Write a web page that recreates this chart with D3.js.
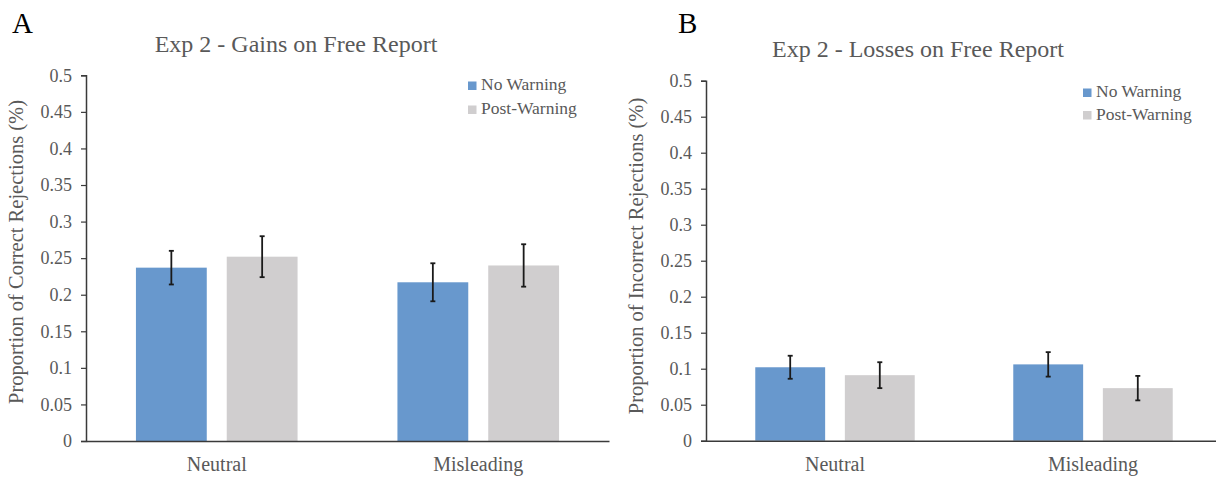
<!DOCTYPE html>
<html>
<head>
<meta charset="utf-8">
<script src="https://cdn.jsdelivr.net/npm/d3@7"></script>
<style>
  html, body { margin: 0; padding: 0; background: #ffffff; }
  svg { display: block; }
  text { font-family: "Liberation Serif", "Times New Roman", serif; }
</style>
</head>
<body>
<svg id="chart" width="1216" height="479"></svg>
<script>
// Conditions on the x axis and the two warning groups
const categories = ["Neutral", "Misleading"];
const seriesNames = ["No Warning", "Post-Warning"];
const seriesColors = ["#6898CD", "#D0CECF"];
const yTicks = [0, 0.05, 0.1, 0.15, 0.2, 0.25, 0.3, 0.35, 0.4, 0.45, 0.5];

// Panel A: gains (correct rejections)
const gainsNoWarning = [0.237, 0.217];
const gainsPostWarning = [0.252, 0.240];
const gainsNoWarningErr = [0.023, 0.026];
const gainsPostWarningErr = [0.028, 0.029];

// Panel B: losses (incorrect rejections)
const lossesNoWarning = [0.102, 0.106];
const lossesPostWarning = [0.091, 0.073];
const lossesNoWarningErr = [0.016, 0.017];
const lossesPostWarningErr = [0.018, 0.017];

const svg = d3.select("#chart");

function drawPanel(cfg) {
  const g = svg.append("g");

  const y = d3.scaleLinear().domain([0, 0.5]).range([cfg.y0, cfg.y1]);
  const x0 = d3.scaleBand().domain(categories).range([cfg.x0, cfg.x1]).padding(0);
  const x1 = d3.scaleBand().domain(seriesNames).range([0, x0.bandwidth()])
    .paddingInner(0.22).paddingOuter(0.55);

  const rows = [];
  categories.forEach((c, i) => {
    seriesNames.forEach((s, j) => {
      rows.push({ cat: c, series: s, idx: j,
        value: cfg.values[j][i], err: cfg.errors[j][i] });
    });
  });

  // bars
  g.selectAll("rect.bar").data(rows).enter().append("rect")
    .attr("class", "bar")
    .attr("x", d => x0(d.cat) + x1(d.series))
    .attr("width", x1.bandwidth())
    .attr("y", d => y(d.value))
    .attr("height", d => y(0) - y(d.value))
    .attr("fill", d => seriesColors[d.idx]);

  // error bars
  const eb = g.selectAll("g.err").data(rows).enter().append("g")
    .attr("class", "err")
    .attr("stroke", "#1a1a1a").attr("stroke-width", 1.8);
  const cx = d => x0(d.cat) + x1(d.series) + x1.bandwidth() / 2;
  eb.append("line")
    .attr("x1", cx).attr("x2", cx)
    .attr("y1", d => y(d.value + d.err)).attr("y2", d => y(d.value - d.err));
  eb.append("line")
    .attr("x1", d => cx(d) - 2.5).attr("x2", d => cx(d) + 2.5)
    .attr("y1", d => y(d.value + d.err)).attr("y2", d => y(d.value + d.err));
  eb.append("line")
    .attr("x1", d => cx(d) - 2.5).attr("x2", d => cx(d) + 2.5)
    .attr("y1", d => y(d.value - d.err)).attr("y2", d => y(d.value - d.err));

  // y axis
  const yAxis = d3.axisLeft(y).tickValues(yTicks).tickSize(5).tickPadding(9)
    .tickFormat(d => d3.format("")(+d.toFixed(2)));
  const ya = g.append("g").attr("transform", `translate(${cfg.x0},0)`).call(yAxis);
  ya.select(".domain").attr("stroke", "#3a3a3a").attr("stroke-width", 1.5);
  ya.selectAll(".tick line").attr("stroke", "#3a3a3a").attr("stroke-width", 1.2);
  ya.selectAll(".tick text")
    .attr("fill", "#595959")
    .style("font-family", "'Liberation Serif', serif")
    .style("font-size", "18px");

  // x axis (baseline + category labels)
  const xAxis = d3.axisBottom(x0).tickSize(0).tickPadding(16);
  const xa = g.append("g").attr("transform", `translate(0,${cfg.y0})`).call(xAxis);
  xa.select(".domain").attr("stroke", "#3a3a3a").attr("stroke-width", 1.5);
  xa.selectAll(".tick text")
    .attr("fill", "#595959")
    .style("font-family", "'Liberation Serif', serif")
    .style("font-size", "20px");

  // y axis title
  g.append("text")
    .attr("transform", `translate(${cfg.yLabelX},${cfg.yLabelY}) rotate(-90)`)
    .attr("text-anchor", "middle")
    .attr("fill", "#595959")
    .style("font-size", "20.5px")
    .text(cfg.yLabel);

  // chart title
  g.append("text")
    .attr("x", cfg.titleX).attr("y", cfg.titleY)
    .attr("text-anchor", "middle")
    .attr("fill", "#595959")
    .style("font-size", "24px")
    .text(cfg.title);

  // panel letter
  g.append("text")
    .attr("x", cfg.letterX).attr("y", cfg.letterY)
    .attr("fill", "#000000")
    .style("font-size", "29px")
    .text(cfg.letter);

  // legend
  const lg = g.append("g").attr("transform", `translate(${cfg.legendX},${cfg.legendY})`);
  seriesNames.forEach((s, j) => {
    const row = lg.append("g").attr("transform", `translate(0,${j * cfg.legendGap})`);
    row.append("rect").attr("x", 0).attr("y", -8.5).attr("width", 8.5).attr("height", 8.5)
      .attr("fill", seriesColors[j]);
    row.append("text").attr("x", 13).attr("y", 0)
      .attr("fill", "#595959")
      .style("font-size", "17.5px")
      .text(s);
  });
}

drawPanel({
  x0: 86, x1: 609, y0: 441, y1: 75.3,
  values: [gainsNoWarning, gainsPostWarning],
  errors: [gainsNoWarningErr, gainsPostWarningErr],
  yLabel: "Proportion of Correct Rejections (%)",
  yLabelX: 23, yLabelY: 252,
  title: "Exp 2 - Gains on Free Report", titleX: 296, titleY: 52,
  letter: "A", letterX: 12, letterY: 33,
  legendX: 468, legendY: 90, legendGap: 24
});

drawPanel({
  x0: 706, x1: 1222, y0: 440.7, y1: 80.7,
  values: [lossesNoWarning, lossesPostWarning],
  errors: [lossesNoWarningErr, lossesPostWarningErr],
  yLabel: "Proportion of Incorrect Rejections (%)",
  yLabelX: 643, yLabelY: 256,
  title: "Exp 2 - Losses on Free Report", titleX: 918, titleY: 57,
  letter: "B", letterX: 678, letterY: 33,
  legendX: 1083, legendY: 97, legendGap: 22.5
});
</script>
</body>
</html>
